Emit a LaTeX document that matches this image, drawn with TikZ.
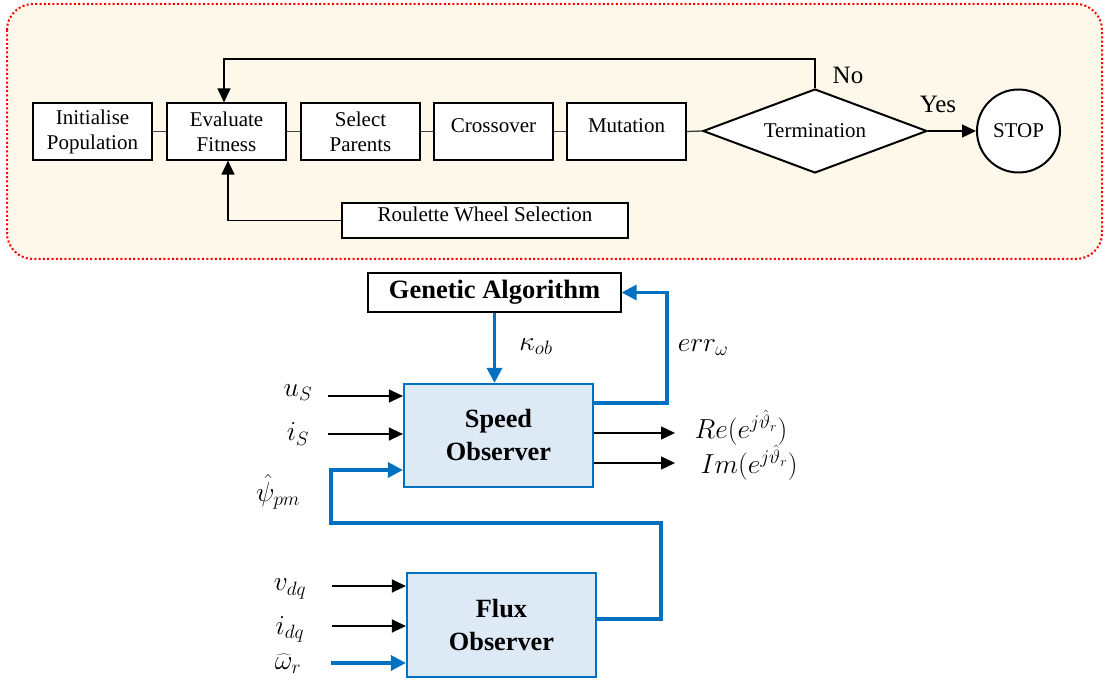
\RequirePackage{fix-cm}
\documentclass[tikz,border=0pt]{standalone}
\usepackage{fontspec}
\setmainfont{Liberation Serif}
\usetikzlibrary{arrows.meta,shapes.geometric}
\definecolor{cream}{HTML}{FEF8EA}
\definecolor{obsblue}{HTML}{0070C0}
\definecolor{obsfill}{HTML}{DEE9F6}
\begin{document}
\begin{tikzpicture}[x=1pt,y=-1pt,
  gabox/.style={draw=black, line width=1.2pt, fill=white, inner sep=0pt, align=center,
    minimum width=119pt, minimum height=57pt, font=\fontsize{21}{25}\selectfont},
  link/.style={draw=black!75, line width=1.3pt},
  arr/.style={-{Triangle[length=14pt,width=13pt]}, draw=black, line width=1.3pt},
  bluearr/.style={draw=obsblue, line width=3.2pt, -{Triangle[length=15pt,width=15pt]}},
  obs/.style={draw=obsblue, line width=2.2pt, fill=obsfill, align=center, inner sep=0pt,
    minimum width=189pt, minimum height=103pt, font=\bfseries\fontsize{26.3}{33}\selectfont},
  mlbl/.style={font=\fontsize{27.5}{30}\selectfont, inner sep=0pt},
  txt/.style={font=\fontsize{25}{28}\selectfont, inner sep=0pt}]
\useasboundingbox (0,0) rectangle (1104,684);
% outer frame
\draw[red, line width=2pt, dash pattern=on 2pt off 2.3pt, fill=cream, rounded corners=26pt]
  (7,4) rectangle (1102,259);
% top flow
\node[gabox] (init) at (92.5,131.5) {Initialise\\Population};
\node[gabox] (eval) at (226.5,131.5) {Evaluate\\Fitness};
\node[gabox] (sel) at (360.5,131.5) {Select\\Parents};
\node[gabox, text height=15pt, text depth=12pt] (cross) at (493.5,131.5) {Crossover};
\node[gabox, text height=15pt, text depth=12pt] (mut) at (626.5,131.5) {Mutation};
\node[draw=black, line width=2pt, fill=white, diamond, aspect=2.6, inner sep=0pt,
  minimum width=224pt, minimum height=84pt, font=\fontsize{21}{25}\selectfont] (term) at (815,131) {Termination};
\node[draw=black, line width=2pt, fill=white, circle, minimum size=83pt, inner sep=0pt,
  font=\fontsize{21}{25}\selectfont] (stop) at (1018.5,131) {STOP};
\node[gabox, minimum width=286pt, minimum height=35pt, text height=15pt, text depth=12pt] (roul) at (485,220.5) {Roulette Wheel Selection};
\draw[link] (init.east) -- (eval.west);
\draw[link] (eval.east) -- (sel.west);
\draw[link] (sel.east) -- (cross.west);
\draw[link] (cross.east) -- (mut.west);
\draw[link] (mut.east) -- (term.west);
\draw[arr] (term.east) -- (stop.west);
\draw[arr] (term.north) -- ++(0,-29) -| ([xshift=-2.5pt]eval.north);
\draw[arr] (roul.west) -| ([xshift=1.5pt]eval.south);
\node[txt] (no) at (848,75) {No};
\node[txt] (yes) at (938,104) {Yes};
% lower block diagram
\node[draw=black, line width=1.2pt, fill=white, minimum width=253pt, minimum height=39pt, inner sep=0pt,
  font=\bfseries\fontsize{26.5}{30}\selectfont] (ga) at (494.5,292.5) {Genetic Algorithm};
\node[obs] (speed) at (498.5,435.5) {Speed\\Observer};
\node[obs, minimum height=104pt] (flux) at (501.5,625) {Flux\\Observer};
\draw[bluearr] (ga.south) -- (ga.south |- speed.north);
\node[mlbl] (kob) at (536,347) {$\kappa_{ob}$};
\coordinate (errc) at (667,403);
\draw[bluearr] (speed.east |- errc) -- (errc) |- (ga.east);
\node[mlbl] (err) at (703,348) {$err_\omega$};
% speed inputs
\coordinate (us) at (328,396);
\coordinate (is) at (328,434);
\draw[arr] (us) -- (us -| speed.west);
\draw[arr] (is) -- (is -| speed.west);
\node[mlbl] (uslbl) at (298,393) {$u_S$};
\node[mlbl] (islbl) at (298,434) {$i_S$};
% feedback from flux observer
\coordinate (fb1) at (661,619);
\coordinate (fb2) at (661,523);
\coordinate (fb3) at (331,523);
\coordinate (fb4) at (331,470);
\draw[bluearr] (flux.east |- fb1) -- (fb1) -- (fb2) -- (fb3) -- (fb4) -- (fb4 -| speed.west);
\node[mlbl] (psilbl) at (278,492) {$\hat\psi_{pm}$};
% speed outputs
\coordinate (re) at (675,433);
\coordinate (im) at (675,463);
\draw[arr] (speed.east |- re) -- (re);
\draw[arr] (speed.east |- im) -- (im);
\node[mlbl] (relbl) at (741,428) {$Re(e^{j\hat\vartheta_r})$};
\node[mlbl] (imlbl) at (749,463) {$Im(e^{j\hat\vartheta_r})$};
% flux inputs
\coordinate (vdq) at (332,586);
\coordinate (idq) at (332,626);
\coordinate (wr) at (331,663);
\draw[arr] (vdq) -- (vdq -| flux.west);
\draw[arr] (idq) -- (idq -| flux.west);
\draw[bluearr] (wr) -- (wr -| flux.west);
\node[mlbl] (vdqlbl) at (290,589) {$v_{dq}$};
\node[mlbl] (idqlbl) at (290,629) {$i_{dq}$};
\node[mlbl] (wrlbl) at (288,664) {$\widehat\omega_r$};
\end{tikzpicture}
\end{document}
